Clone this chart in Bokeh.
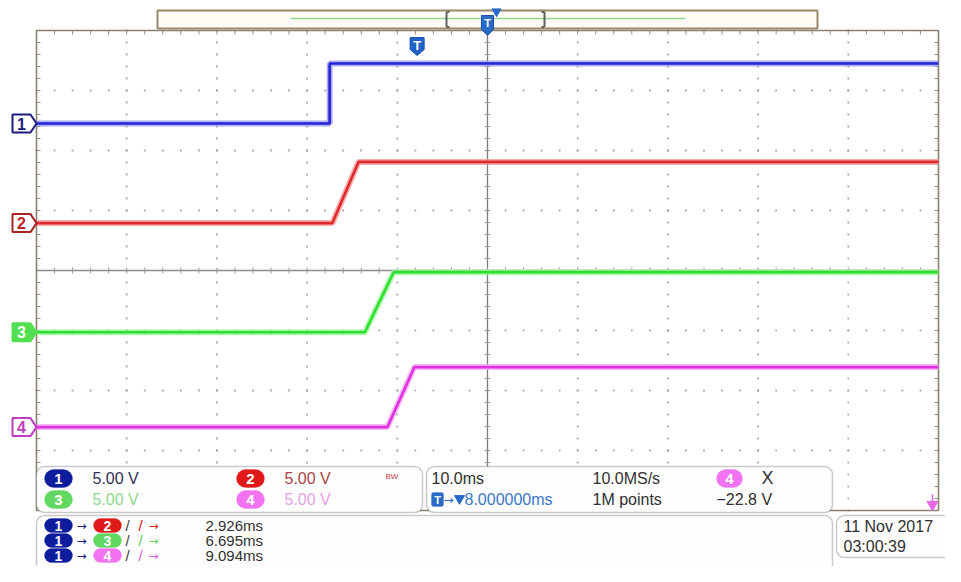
import numpy as np
from bokeh.plotting import figure
from bokeh.models import BoxAnnotation, Range1d
from bokeh.core.properties import value
from bokeh.embed import file_html
from bokeh.resources import INLINE

# ---------------- data (time in ms relative to screen centre, volts) ----------------
ch1_t = [-50.0, -17.5, -17.5, 50.0]
ch1_v = [12.25, 12.25, 17.25, 17.25]
ch2_t = [-50.0, -17.2, -14.3, 50.0]
ch2_v = [3.95, 3.95, 9.05, 9.05]
ch3_t = [-50.0, -13.6, -10.4, 50.0]
ch3_v = [-5.15, -5.15, -0.15, -0.15]
ch4_t = [-50.0, -11.1, -8.1, 50.0]
ch4_v = [-13.05, -13.05, -8.05, -8.05]

channels = ["1", "2", "3", "4"]
ch_offsets = [12.25, 3.95, -5.15, -13.05]
scale_labels = ["5.00 V", "5.00 V", "5.00 V", "5.00 V"]
delay_targets = ["2", "3", "4"]
delay_values = ["2.926ms", "6.695ms", "9.094ms"]
timebase = "10.0ms"
sample_rate = "10.0MS/s"
record_len = "1M points"
trig_delay = "8.000000ms"
trig_t = -7.8
trig_source = "4"
trig_level = "\u221222.8 V"
date_str = "11 Nov 2017"
time_str = "03:00:39"

# ---------------- screen geometry ----------------
MS_DIV, V_DIV = 10.0, 5.0
PXX, PXY = 90.2, 60.0
CX, CY = 487.0, 270.0
W, H = 945, 566
FONT = "Liberation Sans"
SYM = "DejaVu Sans"


def X(px):
    return (px - CX) / PXX * MS_DIV


def Y(py):
    return (CY - py) / PXY * V_DIV


core = ["#2424d6", "#e02a2a", "#2ee02e", "#e032e0"]
fringe = ["#9a9af2", "#f29a9a", "#9af29a", "#f2a6f2"]
pill = ["#0c1c9c", "#e01a1a", "#62d862", "#f272f2"]

p = figure(width=W, height=H, x_range=Range1d(X(0), X(W)),
           y_range=Range1d(Y(H), Y(0)), output_backend="svg",
           toolbar_location=None, min_border=0,
           x_axis_location=None, y_axis_location=None)
p.grid.visible = False
p.outline_line_color = None
p.background_fill_color = "white"
p.border_fill_color = "white"

# ---------------- graticule ----------------
gx, gy = [], []
for xv in [-40, -30, -20, -10, 10, 20, 30, 40]:
    for yv in np.arange(-20, 20.01, 1.0):
        gx.append(xv); gy.append(yv)
for yv in [-15, -10, -5, 5, 10, 15]:
    for xv in np.arange(-50, 50.01, 2.0):
        gx.append(xv); gy.append(yv)
p.scatter(gx, gy, marker="square", size=1.8, fill_color="#a8a8a8", line_color=None)

# border ticks
tx = np.arange(-48, 48.01, 2.0)
ty = np.arange(-19, 19.01, 1.0)
tl = 4.0
p.segment(x0=tx, y0=[20] * len(tx), x1=tx, y1=[20 - tl / PXY * V_DIV] * len(tx),
          line_color="#9a9080", line_width=1)
p.segment(x0=[-50] * len(ty), y0=ty, x1=[-50 + tl / PXX * MS_DIV] * len(ty), y1=ty,
          line_color="#9a9080", line_width=1)
p.segment(x0=[50] * len(ty), y0=ty, x1=[50 - tl / PXX * MS_DIV] * len(ty), y1=ty,
          line_color="#9a9080", line_width=1)
# centre cross
p.segment(x0=[-50], y0=[0], x1=[50], y1=[0], line_color="#8c8c8c", line_width=1.3)
p.segment(x0=[0], y0=[-20], x1=[0], y1=[Y(28)], line_color="#7c7c7c", line_width=1.3)
ct = 3.0
p.segment(x0=tx, y0=[ct / PXY * V_DIV] * len(tx), x1=tx, y1=[-ct / PXY * V_DIV] * len(tx),
          line_color="#9a9a9a", line_width=1)
p.segment(x0=[-ct / PXX * MS_DIV] * len(ty), y0=ty, x1=[ct / PXX * MS_DIV] * len(ty), y1=ty,
          line_color="#9a9a9a", line_width=1)
# frame
p.quad(left=[-50], right=[50], bottom=[-20], top=[20], fill_color=None,
       line_color="#8a8070", line_width=1.6)

# ---------------- top record bar ----------------
p.quad(left=[X(157)], right=[X(817)], top=[Y(10)], bottom=[Y(28)],
       fill_color="#fffcf6", line_color="#9a8868", line_width=2)
p.segment(x0=[X(290)], y0=[Y(18)], x1=[X(685)], y1=[Y(18)], line_color="#92d492", line_width=1.6)
for bx, d in [(446, 1), (544, -1)]:
    p.line([X(bx + 3 * d), X(bx), X(bx), X(bx + 3 * d)], [Y(11), Y(12), Y(26), Y(27)],
           line_color="#606060", line_width=2)
p.scatter([X(496)], [Y(11)], marker="inverted_triangle", size=9,
          fill_color="#2a6ac8", line_color="#2a6ac8")
p.patch([X(481), X(493), X(493), X(487), X(481)], [Y(15), Y(15), Y(29), Y(35), Y(29)],
        fill_color="#2a6ac8", line_color="#1a50a8")
p.text(x=[X(487)], y=[Y(22)], text=["T"], text_color="white", text_font=value(FONT),
       text_font_size="11px", text_font_style="bold", text_align="center", text_baseline="middle")

# trigger position marker
sh_w = 7 / PXX * MS_DIV
p.patch([trig_t - sh_w, trig_t + sh_w, trig_t + sh_w, trig_t, trig_t - sh_w],
        [Y(37), Y(37), Y(49), Y(55), Y(49)], fill_color="#1f62cc", line_color="#1a50a8")
p.text(x=[trig_t], y=[Y(45)], text=["T"], text_color="white", text_font=value(FONT),
       text_font_size="13px", text_font_style="bold", text_align="center", text_baseline="middle")

# ---------------- traces ----------------
for t, v, c, f in [(ch1_t, ch1_v, core[0], fringe[0]), (ch2_t, ch2_v, core[1], fringe[1]),
                   (ch3_t, ch3_v, core[2], fringe[2]), (ch4_t, ch4_v, core[3], fringe[3])]:
    p.line(t, v, line_color=f, line_width=6, line_alpha=0.8)
    p.line(t, v, line_color=c, line_width=2.6)

# trigger level marker (bottom right)
p.segment(x0=[X(932)], y0=[Y(494)], x1=[X(932)], y1=[Y(503)], line_color="#e060e0", line_width=1.5)
p.scatter([X(932)], [Y(504)], marker="inverted_triangle", size=11,
          fill_color="#e668e6", line_color="#e668e6")

# ---------------- channel ground markers ----------------
mk_fill = ["white", "white", "#52e052", "white"]
mk_line = ["#1a1a80", "#a82424", "#52e052", "#c03cc0"]
mk_text = ["#1a1a80", "#c02020", "white", "#c03cc0"]
for i, ch in enumerate(channels):
    off = ch_offsets[i]
    hy = 9 / PXY * V_DIV
    p.patch([X(12), X(30), X(36), X(30), X(12)], [off + hy, off + hy, off, off - hy, off - hy],
            fill_color=mk_fill[i], line_color=mk_line[i], line_width=2)
    p.text(x=[X(21)], y=[off], text=[ch], text_color=mk_text[i], text_font=value(FONT),
           text_font_size="16px", text_font_style="bold", text_align="center", text_baseline="middle")


# ---------------- info panels ----------------
def txt(px, py, s, color, size="16px", align="left", bold=False, font=FONT):
    rr = p.text(x=[X(px)], y=[Y(py)], text=[s], text_color=color, text_font=value(font),
                text_font_size=size, text_align=align, text_baseline="middle",
                text_font_style="bold" if bold else "normal")
    rr.level = "overlay"


def panel(l, r_, t, b, radius=8):
    p.add_layout(BoxAnnotation(left=X(l), right=X(r_), top=Y(t), bottom=Y(b),
                               fill_color="#fefefe", fill_alpha=1.0, line_color="#505050",
                               line_width=1.5, border_radius=radius))


def oval(cx, cy, color, label, w=28, h=18, size="15px"):
    p.add_layout(BoxAnnotation(left=X(cx - w / 2), right=X(cx + w / 2), top=Y(cy - h / 2),
                               bottom=Y(cy + h / 2), fill_color=color, fill_alpha=1.0,
                               line_color=color, line_width=1, border_radius=int(h // 2)))
    txt(cx, cy + 0.5, label, "white", size=size, align="center", bold=True)


panel(36, 422, 466, 512)
panel(426, 832, 466, 512)
panel(36, 832, 515, 575)
panel(836, 980, 515, 557)

# panel A: vertical scales
scale_cols = ["#303058", "#a84444", "#8ed88e", "#e69ee6"]
pos = [(58, 478), (250, 478), (58, 499), (250, 499)]
for i, ch in enumerate(channels):
    cx, cy = pos[i]
    oval(cx, cy, pill[i], ch)
    txt(cx + 34, cy, scale_labels[i], scale_cols[i])
txt(385, 476, "BW", "#c04040", size="8px")

# panel B: timebase / trigger
txt(431, 478, timebase, "#303030")
txt(592, 478, sample_rate, "#303030")
oval(729, 478, pill[3], trig_source, w=26)
txt(761, 477, "X", "#303030", size="18px")
p.add_layout(BoxAnnotation(left=X(431), right=X(443), top=Y(492), bottom=Y(506),
                           fill_color="#2a6ac8", fill_alpha=1.0, line_color="#2a6ac8",
                           border_radius=2))
txt(437, 499.5, "T", "white", size="11px", align="center", bold=True)
txt(443, 499, "\u2192", "#2a6ac8", size="12px", font=SYM)
sc = p.scatter([X(459)], [Y(498)], marker="inverted_triangle", size=10,
               fill_color="#2a6ac8", line_color="#2a6ac8")
sc.level = "overlay"
txt(464, 499, trig_delay, "#3a78c8")
txt(592, 499, record_len, "#303030")
txt(716, 499, trig_level, "#303030")

# panel C: delay measurements
rows = [525, 540, 555]
tcols = ["#e02020", "#62d062", "#e060e0"]
for j, tgt in enumerate(delay_targets):
    y = rows[j]
    oval(58, y, pill[0], "1", w=28, h=14, size="14px")
    txt(76, y, "\u2192", "#1a1a80", size="12px", font=SYM)
    oval(107, y, pill[j + 1], tgt, w=28, h=14, size="14px")
    txt(125, y, "/", "#404040", size="15px")
    txt(138, y, "/", tcols[j], size="15px")
    txt(148, y, "\u2192", tcols[j], size="12px", font=SYM)
    txt(205, y, delay_values[j], "#303030", size="15px")

# panel D: date/time
txt(843, 526, date_str, "#303030")
txt(843, 546, time_str, "#303030")

open("out.html", "w").write(file_html(p, INLINE))
